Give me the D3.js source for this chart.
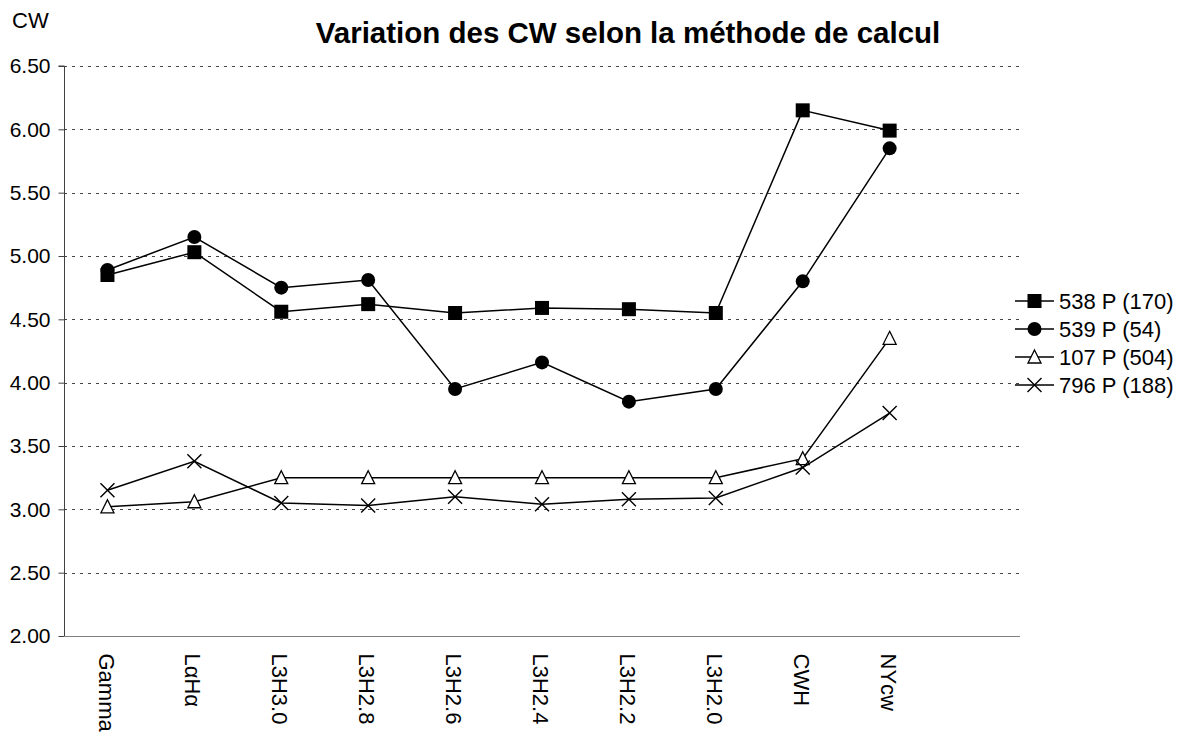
<!DOCTYPE html>
<html><head><meta charset="utf-8">
<script src="https://cdn.jsdelivr.net/npm/d3@7"></script>
<style>body{margin:0;background:#fff;}svg{display:block;font-family:"Liberation Sans",Arial,sans-serif;}</style>
</head><body>
<svg id="c" width="1184" height="737"></svg>
<script>
const categories = ["Gamma","L\u03b1H\u03b1","L3H3.0","L3H2.8","L3H2.6","L3H2.4","L3H2.2","L3H2.0","CWH","NYcw"];
const s538 = [4.85,5.03,4.56,4.62,4.55,4.59,4.58,4.55,6.15,5.99];
const s539 = [4.89,5.15,4.75,4.81,3.95,4.16,3.85,3.95,4.80,5.85];
const s107 = [3.02,3.06,3.25,3.25,3.25,3.25,3.25,3.25,3.40,4.35];
const s796 = [3.15,3.38,3.05,3.03,3.10,3.04,3.08,3.09,3.33,3.76];
const seriesNames = ["538 P (170)","539 P (54)","107 P (504)","796 P (188)"];
const yTicks = [2.0,2.5,3.0,3.5,4.0,4.5,5.0,5.5,6.0,6.5];

const svg = d3.select("#c");
const L = 64, R = 1020, T = 66, B = 636;
const slot = (R - L) / 11;
const x = d3.scaleBand().domain(categories).range([L, L + slot*10]).padding(0);
const cx = c => x(c) + x.bandwidth()/2;
const y = d3.scaleLinear().domain([2, 6.5]).range([B, T]);

// gridlines
svg.append("g").selectAll("line").data(yTicks.filter(t => t > 2)).join("line")
  .attr("x1", L).attr("x2", R).attr("y1", d => Math.round(y(d))+0.5).attr("y2", d => Math.round(y(d))+0.5)
  .attr("stroke", "#444").attr("stroke-width", 1).attr("stroke-dasharray", "3,5");

// y axis
const yAxis = d3.axisLeft(y).tickValues(yTicks).tickFormat(d3.format(".2f")).tickSize(6).tickPadding(8);
const gy = svg.append("g").attr("transform", `translate(${L+0.5},0)`).call(yAxis);
gy.select(".domain").attr("stroke", "#404040").attr("d", `M-6,${T}H0V${B}`);
gy.selectAll(".tick line").attr("stroke", "#404040");
gy.selectAll(".tick text").attr("font-size", 21).attr("fill", "#000").attr("font-family", "Liberation Sans, Arial, sans-serif");

// x axis
const xAxis = d3.axisBottom(x).tickSize(0).tickPadding(0);
const gx = svg.append("g").attr("transform", `translate(0,${B+0.5})`).call(xAxis);
gx.select(".domain").attr("stroke", "#808080").attr("d", `M${L},0H${R}`);
gx.selectAll(".tick text")
  .attr("font-size", 22).attr("fill", "#000").attr("font-family", "Liberation Sans, Arial, sans-serif")
  .attr("text-anchor", "start").attr("transform", "translate(-1,17) rotate(90)")
  .attr("x", 0).attr("y", 0).attr("dy", "0.36em");

// title and axis title
svg.append("text").attr("x", 628).attr("y", 43).attr("text-anchor", "middle")
  .attr("font-size", 29.5).attr("font-weight", "bold").text("Variation des CW selon la méthode de calcul");
svg.append("text").attr("x", 12).attr("y", 28).attr("font-size", 22).text("CW");

const allSeries = [s538, s539, s107, s796];
const line = d3.line().x((d,i) => cx(categories[i])).y(d => y(d));

function drawMarker(g, type) {
  if (type === 0) g.append("rect").attr("x",-7).attr("y",-7).attr("width",14).attr("height",14).attr("fill","#000");
  else if (type === 1) g.append("circle").attr("r",7).attr("fill","#000");
  else if (type === 2) g.append("path").attr("d","M0,-7L6.5,6L-6.5,6Z").attr("fill","#fff").attr("stroke","#000").attr("stroke-width",1.3);
  else g.append("path").attr("d","M-7,-7L7,7M-7,7L7,-7").attr("stroke","#000").attr("stroke-width",1.4).attr("fill","none");
}

allSeries.forEach((s, k) => {
  svg.append("path").datum(s).attr("d", line).attr("fill","none").attr("stroke","#000").attr("stroke-width",1.5);
});
allSeries.forEach((s, k) => {
  s.forEach((v,i) => {
    const g = svg.append("g").attr("transform", `translate(${cx(categories[i])},${y(v)})`);
    drawMarker(g, k);
  });
});

// legend
const leg = svg.append("g");
seriesNames.forEach((n, k) => {
  const ly = 301 + k*28;
  leg.append("line").attr("x1",1015).attr("x2",1054).attr("y1",ly).attr("y2",ly).attr("stroke","#000").attr("stroke-width",1.5);
  const g = leg.append("g").attr("transform", `translate(1034.5,${ly})`);
  drawMarker(g, k);
  leg.append("text").attr("x",1059).attr("y",ly).attr("dy","0.36em").attr("font-size",22).text(n);
});
</script>
</body></html>
